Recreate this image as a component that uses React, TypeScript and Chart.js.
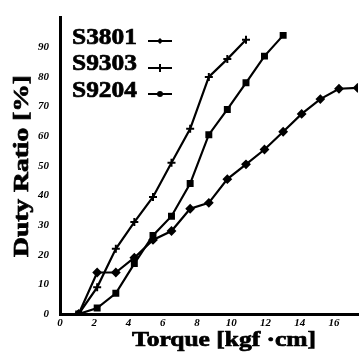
import React, { useEffect, useRef } from 'react';
import { Chart, registerables } from 'chart.js';

Chart.register(...registerables);

// ---- data ----
const torque = [1.09, 2.17, 3.26, 4.34, 5.43, 6.51, 7.6, 8.69, 9.77, 10.86, 11.94, 13.03, 14.11, 15.2, 16.29, 17.37];
const s3801 = [0, 14, 14, 19, 25, 28, 35.5, 37.5, 45.5, 50.5, 55.5, 61.5, 67.5, 72.5, 76, 76.3];
const s9303 = [0, 9, 22, 31, 39.5, 51, 62.5, 80, 86, 92.5];
const s9204 = [0, 2, 7, 17, 26.5, 33, 44, 60.5, 69, 78, 87, 94];
const seriesNames = ['S3801', 'S9303', 'S9204'];
const seriesMarkers = ['rectRot', 'cross', 'rect'];
const xTicks = [0, 2, 4, 6, 8, 10, 12, 14, 16];
const yTicks = [0, 10, 20, 30, 40, 50, 60, 70, 80, 90];
const xTitle = 'Torque [kgf ·cm]';
const yTitle = 'Duty Ratio [%]';

const SERIF = '"Liberation Serif", "Times New Roman", serif';

const toPoints = (ys: number[]) => ys.map((y, i) => ({ x: torque[i], y }));

function drawStretched(ctx: CanvasRenderingContext2D, text: string, x: number, y: number, size: number, targetW: number, rot = 0) {
  ctx.save();
  ctx.font = `bold ${size}px ${SERIF}`;
  const w = ctx.measureText(text).width;
  ctx.translate(x, y);
  if (rot) ctx.rotate(rot);
  ctx.scale(targetW / w, 1);
  ctx.textAlign = 'left';
  ctx.textBaseline = 'alphabetic';
  ctx.fillStyle = '#000';
  ctx.strokeStyle = '#000';
  ctx.lineWidth = 0.7;
  ctx.fillText(text, 0, 0);
  ctx.strokeText(text, 0, 0);
  ctx.restore();
}

function drawMarker(ctx: CanvasRenderingContext2D, style: string, x: number, y: number) {
  ctx.save();
  ctx.fillStyle = '#000';
  ctx.strokeStyle = '#000';
  ctx.lineWidth = 2;
  ctx.beginPath();
  if (style === 'rectRot') {
    ctx.moveTo(x, y - 3); ctx.lineTo(x + 3, y); ctx.lineTo(x, y + 3); ctx.lineTo(x - 3, y); ctx.closePath(); ctx.fill();
  } else if (style === 'cross') {
    ctx.moveTo(x - 3, y); ctx.lineTo(x + 3, y); ctx.moveTo(x, y - 4); ctx.lineTo(x, y + 4); ctx.stroke();
  } else {
    ctx.arc(x, y, 3, 0, Math.PI * 2); ctx.fill();
  }
  ctx.restore();
}

const paperText = {
  id: 'paperText',
  afterDraw(chart: any) {
    const ctx = chart.ctx as CanvasRenderingContext2D;
    // axis titles
    drawStretched(ctx, xTitle, 132, 346, 21, 184);
    drawStretched(ctx, yTitle, 28, 257, 22, 182, -Math.PI / 2);
    // legend
    const textBase = [44, 70, 97];
    const lineY = [41, 68, 94];
    seriesNames.forEach((name, i) => {
      drawStretched(ctx, name, 72, textBase[i], 24, 65);
      ctx.save();
      ctx.strokeStyle = '#000';
      ctx.lineWidth = 2;
      ctx.beginPath();
      ctx.moveTo(148, lineY[i]);
      ctx.lineTo(172, lineY[i]);
      ctx.stroke();
      ctx.restore();
      drawMarker(ctx, seriesMarkers[i], 160, lineY[i]);
    });
  },
};

const tickFont = { family: SERIF, size: 11, style: 'italic' as const, weight: 'bold' as const };

export default function App() {
  const ref = useRef<HTMLCanvasElement | null>(null);

  useEffect(() => {
    if (!ref.current) return;
    const mk = (label: string, ys: number[], style: string, radius: number) => ({
      label,
      data: toPoints(ys),
      borderColor: '#000',
      backgroundColor: '#000',
      borderWidth: 2.2,
      pointStyle: style,
      pointRadius: radius,
      pointBorderWidth: 2,
      pointBackgroundColor: '#000',
      pointBorderColor: '#000',
      tension: 0,
    });
    const chart = new Chart(ref.current, {
      type: 'line',
      data: {
        datasets: [
          mk(seriesNames[0], s3801, 'rectRot', 3.5),
          mk(seriesNames[1], s9303, 'cross', 4),
          mk(seriesNames[2], s9204, 'rect', 3.5),
        ] as any,
      },
      options: {
        responsive: false,
        animation: false,
        devicePixelRatio: 1,
        layout: { padding: { top: 13, right: 0, left: 0, bottom: 0 } },
        plugins: { legend: { display: false }, tooltip: { enabled: false } },
        scales: {
          x: {
            type: 'linear',
            min: 0,
            max: 17.4,
            afterFit: (s: any) => { s.height = 43; },
            afterBuildTicks: (s: any) => { s.ticks = xTicks.map((v) => ({ value: v })); },
            grid: { display: false, drawTicks: false },
            border: { display: true, color: '#000', width: 3 },
            ticks: { font: tickFont, color: '#000', padding: 3, maxRotation: 0, autoSkip: false },
          },
          y: {
            type: 'linear',
            min: 0,
            max: 100,
            afterFit: (s: any) => { s.width = 60; },
            afterBuildTicks: (s: any) => { s.ticks = yTicks.map((v) => ({ value: v })); },
            grid: { display: false, drawTicks: false },
            border: { display: true, color: '#000', width: 3 },
            ticks: { font: tickFont, color: '#000', padding: 11, autoSkip: false },
          },
        },
      } as any,
      plugins: [paperText],
    });
    return () => chart.destroy();
  }, []);

  return (
    <div style={{ position: 'fixed', left: 0, top: 0, width: 364, height: 357, background: '#fff' }}>
      <canvas ref={ref} width={364} height={357} style={{ display: 'block' }} />
    </div>
  );
}
